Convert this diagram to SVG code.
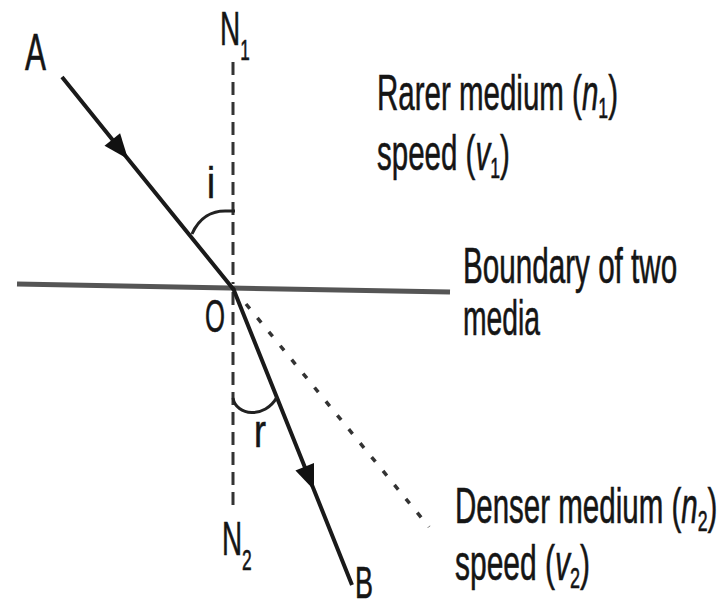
<svg xmlns="http://www.w3.org/2000/svg" width="728" height="609" viewBox="0 0 728 609">
<style>
text{font-family:"Liberation Sans",Arial,sans-serif;fill:#151515;stroke:#151515;stroke-width:0.6;}
.ray{stroke:#1a1a1a;stroke-width:4;fill:none;}
.normal{stroke:#333;stroke-width:3;stroke-dasharray:13 7;fill:none;}
.dot{stroke:#333;stroke-width:3.5;stroke-dasharray:6 12;fill:none;}
.arc{stroke:#222;stroke-width:3;fill:none;}
.bnd{stroke:#555;stroke-width:5;fill:none;}
.lbl{font-size:50px;}
.sub{font-size:30px;}
</style>
<defs>
<marker id="arr" markerUnits="userSpaceOnUse" markerWidth="30" markerHeight="30" viewBox="-22 -11 24 22" refX="0" refY="0" orient="auto">
<path d="M0,0 L-20,-8 L-20,8 z" fill="#111"/>
</marker>
</defs>
<rect width="728" height="609" fill="#fff"/>
<g id="boundary"><line class="bnd" x1="17" y1="284" x2="450" y2="292"/></g>
<g id="normal">
<line class="normal" x1="233" y1="62" x2="233" y2="284"/>
<line class="normal" x1="233" y1="292" x2="233" y2="512"/>
</g>
<g id="connectors">
<path id="incident" class="ray" d="M62,77 L128,159 L234,290" marker-mid="url(#arr)"/>
<path id="refracted" class="ray" d="M233,288 L314,490 L352,585" marker-mid="url(#arr)"/>
<line id="extension" class="dot" x1="246" y1="304" x2="429" y2="527"/>
</g>
<g id="angle-i">
<path class="arc" d="M235,211 L228,211 C212,210 199,218 192,234"/>
<text x="207" y="198" font-size="44" textLength="8" lengthAdjust="spacingAndGlyphs">i</text>
</g>
<g id="angle-r">
<path class="arc" d="M233,398 C236,416 265,419 277,397"/>
<text x="254" y="447" font-size="46" textLength="12" lengthAdjust="spacingAndGlyphs">r</text>
</g>
<g id="A"><text x="25" y="70" font-size="52" textLength="21" lengthAdjust="spacingAndGlyphs">A</text></g>
<g id="N1"><text font-size="49" transform="translate(220,45) scale(0.57,1)">N<tspan font-size="30" dy="15">1</tspan></text></g>
<g id="O"><text x="205" y="332" font-size="47" textLength="20" lengthAdjust="spacingAndGlyphs">O</text></g>
<g id="N2"><text font-size="48" transform="translate(222,555) scale(0.58,1)">N<tspan font-size="30" dy="15">2</tspan></text></g>
<g id="B"><text x="355" y="598" font-size="44" textLength="18" lengthAdjust="spacingAndGlyphs">B</text></g>
<g id="rarer">
<text class="lbl" transform="translate(377,110) scale(0.59,1)">Rarer medium (<tspan font-style="italic">n</tspan><tspan class="sub" dy="8">1</tspan><tspan dy="-8">)</tspan></text>
<text class="lbl" transform="translate(377,170) scale(0.59,1)">speed (<tspan font-style="italic">v</tspan><tspan class="sub" dy="8">1</tspan><tspan dy="-8">)</tspan></text>
</g>
<g id="boundary-label">
<text class="lbl" transform="translate(463,283) scale(0.593,1)">Boundary of two</text>
<text class="lbl" transform="translate(463,335) scale(0.566,1)">media</text>
</g>
<g id="denser">
<text class="lbl" transform="translate(455,523) scale(0.59,1)">Denser medium (<tspan font-style="italic">n</tspan><tspan class="sub" dy="8">2</tspan><tspan dy="-8">)</tspan></text>
<text class="lbl" transform="translate(455,580) scale(0.6,1)">speed (<tspan font-style="italic">v</tspan><tspan class="sub" dy="8">2</tspan><tspan dy="-8">)</tspan></text>
</g>
</svg>
